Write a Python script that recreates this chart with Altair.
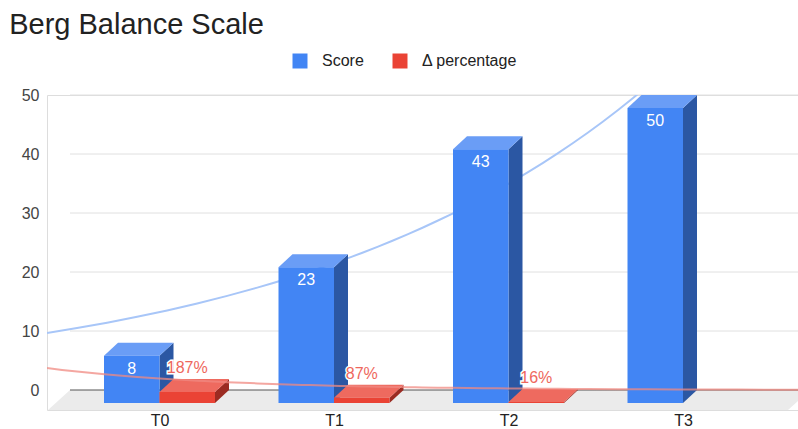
import json
import altair as alt
import pandas as pd

# ---------------- data ----------------
categories = ["T0", "T1", "T2", "T3"]
score = [8, 23, 43, 50]
delta = [1.87, 0.87, 0.16, None]          # Δ percentage as fraction (187%, 87%, 16%)
series_names = ["Score", "Δ percentage"]
y_ticks = [0, 10, 20, 30, 40, 50]

# ---------------- style / geometry constants ----------------
FONT = "Liberation Sans"
BLUE, BLUE_SIDE, BLUE_TOP = "#4285f4", "#2b57a3", "#6a9df6"
RED, RED_SIDE, RED_TOP = "#ea4335", "#9b2b22", "#ee6a5f"
FRONT = [BLUE, RED]
SIDE = [BLUE_SIDE, RED_SIDE]
TOP = [BLUE_TOP, RED_TOP]

W, H = 751, 315
STEP_PX = 174.5           # pixels per category
UNIT_PX = 5.9             # pixels per value unit
BAR_W = 55.5 / STEP_PX    # bar width in category units
DX = 14 / STEP_PX         # 3D depth, horizontal
DY = 13 / UNIT_PX         # 3D depth, vertical
X_MIN = (47 - 159.5) / STEP_PX
X_MAX = (798 - 159.5) / STEP_PX
Y_MIN = -20 / UNIT_PX
Y_MAX = 50

xscale = alt.Scale(domain=[X_MIN, X_MAX], nice=False, zero=False)
yscale = alt.Scale(domain=[Y_MIN, Y_MAX], nice=False, zero=False)
XAX = alt.Axis(values=list(range(len(categories))),
               labelExpr=f"{json.dumps(categories)}[round(datum.value)]",
               title=None, grid=False, domain=False, ticks=False,
               labelPadding=2, labelFontSize=16, labelColor="#222222",
               labelFont=FONT, labelOverlap=False, labelFlush=False)
YAX = alt.Axis(values=y_ticks, title=None, grid=False, domain=False, ticks=False,
               labelPadding=8, labelFontSize=16, labelColor="#444444", labelFont=FONT)

# ---------------- derived tables ----------------
bars, sides, tops = [], [], []
for i, cat in enumerate(categories):
    for s, vals in enumerate([score, delta]):
        v = vals[i]
        if v is None:
            continue
        x1 = i - BAR_W + s * BAR_W
        x2 = x1 + BAR_W
        key = f"{cat}-{s}"
        label = str(v) if s == 0 else f"{round(v * 100)}%"
        bars.append(dict(key=key, s=s, series=series_names[s], v=v, x1=x1, x2=x2,
                         xc=(x1 + x2) / 2, yf0=-DY, yf1=v - DY, label=label))
        sides.append(dict(key=key, s=s, sx=x2, stop=v - DY, sbot=-DY))
        sides.append(dict(key=key, s=s, sx=x2 + DX, stop=v, sbot=0))
        tops.append(dict(key=key, s=s, ty=v - DY, tl=x1, tr=x2))
        tops.append(dict(key=key, s=s, ty=v, tl=x1 + DX, tr=x2 + DX))
bars = pd.DataFrame(bars)
sides = pd.DataFrame(sides)
tops = pd.DataFrame(tops)
trend = pd.DataFrame({"t": list(range(len(categories))), "score": score, "delta": delta})

floor = pd.DataFrame({
    "fy": [Y_MIN, 0],
    "fl": [(48 - 159.5) / STEP_PX, (70 - 159.5) / STEP_PX],
    "fr": [(788 - 159.5) / STEP_PX, (810 - 159.5) / STEP_PX],
})
grid = pd.DataFrame({"g": y_ticks[1:]})

# ---------------- layers ----------------
floor_layer = alt.Chart(floor).mark_area(orient="horizontal", color="#ebebeb", clip=True).encode(
    x=alt.X("fl:Q", scale=xscale, axis=XAX), x2="fr:Q",
    y=alt.Y("fy:Q", scale=yscale, axis=YAX))

grid_layer = alt.Chart(grid).mark_rule(color="#e0e0e0", strokeWidth=1).encode(
    x=alt.value(23), x2=alt.value(W), y=alt.Y("g:Q", scale=yscale, axis=YAX))

zero_layer = alt.Chart(pd.DataFrame({"z": [0]})).mark_rule(color="#555555", strokeWidth=1).encode(
    x=alt.value(23), x2=alt.value(W), y=alt.Y("z:Q", scale=yscale, axis=YAX))

blue_trend = alt.Chart(trend).transform_regression(
    "t", "score", method="exp", extent=[X_MIN, X_MAX]
).mark_line(clip=True, color="#a8c6f8", strokeWidth=2).encode(
    x=alt.X("t:Q", scale=xscale, axis=XAX), y=alt.Y("score:Q", scale=yscale, axis=YAX))

red_trend = alt.Chart(trend).transform_filter("isValid(datum.delta)").transform_regression(
    "t", "delta", method="exp", extent=[X_MIN, X_MAX]
).mark_line(clip=True, color="#f08a82", strokeWidth=2, opacity=0.75).encode(
    x=alt.X("t:Q", scale=xscale, axis=XAX), y=alt.Y("delta:Q", scale=yscale, axis=YAX))

side_layers = [
    alt.Chart(sides).transform_filter(f"datum.s == {s}").mark_area(orient="vertical", color=SIDE[s]).encode(
        x=alt.X("sx:Q", scale=xscale, axis=XAX), y=alt.Y("stop:Q", scale=yscale, axis=YAX),
        y2="sbot:Q", detail="key:N")
    for s in range(2)
]
top_layers = [
    alt.Chart(tops).transform_filter(f"datum.s == {s}").mark_area(orient="horizontal", color=TOP[s]).encode(
        x=alt.X("tl:Q", scale=xscale, axis=XAX), x2="tr:Q",
        y=alt.Y("ty:Q", scale=yscale, axis=YAX), detail="key:N")
    for s in range(2)
]

front_layer = alt.Chart(bars).mark_rect().encode(
    x=alt.X("x1:Q", scale=xscale, axis=XAX), x2="x2:Q",
    y=alt.Y("yf0:Q", scale=yscale, axis=YAX), y2="yf1:Q",
    color=alt.Color("series:N", scale=alt.Scale(domain=series_names, range=FRONT),
                    legend=alt.Legend(title=None, orient="none", direction="horizontal",
                                      legendX=245, legendY=-42, symbolType="square",
                                      symbolSize=225, symbolStrokeWidth=0, symbolOpacity=1,
                                      labelFontSize=16, labelFont=FONT, labelColor="#222222",
                                      labelOffset=14, columnPadding=28)))

blue_labels = alt.Chart(bars).transform_filter("datum.s == 0").mark_text(
    color="white", fontSize=16, font=FONT, dy=13, baseline="middle").encode(
    x=alt.X("xc:Q", scale=xscale, axis=XAX), y=alt.Y("yf1:Q", scale=yscale, axis=YAX), text="label:N")

red_halo = alt.Chart(bars).transform_filter("datum.s == 1").mark_text(
    color="white", stroke="white", strokeWidth=3, fontSize=16, font=FONT, dy=-11, baseline="middle").encode(
    x=alt.X("xc:Q", scale=xscale, axis=XAX), y=alt.Y("v:Q", scale=yscale, axis=YAX), text="label:N")
red_labels = alt.Chart(bars).transform_filter("datum.s == 1").mark_text(
    color="#ee675c", fontSize=16, font=FONT, dy=-11, baseline="middle").encode(
    x=alt.X("xc:Q", scale=xscale, axis=XAX), y=alt.Y("v:Q", scale=yscale, axis=YAX), text="label:N")

chart = alt.layer(
    floor_layer, grid_layer, zero_layer, blue_trend,
    *side_layers, *top_layers, front_layer, red_trend,
    blue_labels, red_halo, red_labels,
).properties(
    width=W, height=H,
    autosize=alt.AutoSizeParams(type="none"),
    padding={"left": 47, "top": 95, "right": 0, "bottom": 19},
    title=alt.TitleParams("Berg Balance Scale", anchor="start", dx=-12, dy=-9,
                          fontSize=29, font=FONT, fontWeight="normal", color="#222222"),
).configure_view(stroke=None).configure(background="white")

chart.save("out.html", embed_options={"renderer": "svg", "actions": False})
